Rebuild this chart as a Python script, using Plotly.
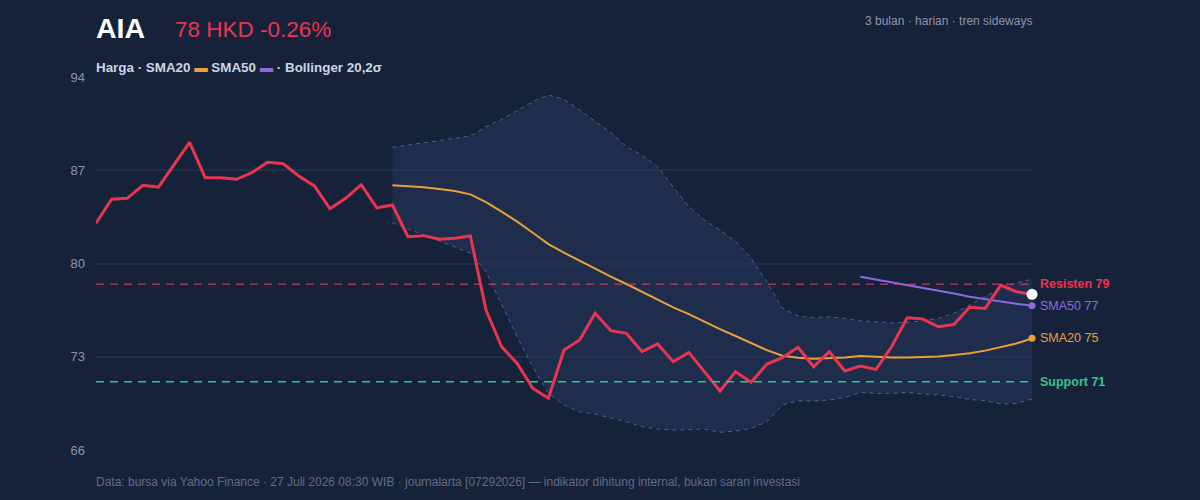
import plotly.graph_objects as go

# ---- data ----
days = list(range(61))
price = [83.02, 84.82, 84.89, 85.87, 85.74, 87.39, 89.1, 86.44, 86.44, 86.32,
         86.82, 87.6, 87.49, 86.57, 85.82, 84.11, 84.89, 85.92, 84.17, 84.39,
         82.01, 82.09, 81.82, 81.89, 82.06, 76.51, 73.75, 72.5, 70.63, 69.88,
         73.5, 74.26, 76.26, 74.96, 74.76, 73.38, 73.96, 72.63, 73.33, 71.88,
         70.43, 71.88, 71.08, 72.45, 72.93, 73.71, 72.25, 73.38, 71.93, 72.3,
         72.05, 73.75, 75.93, 75.83, 75.25, 75.43, 76.71, 76.63, 78.38, 77.88,
         77.69]
sma20_start = 19
sma20 = [85.87, 85.8, 85.72, 85.6, 85.44, 85.19, 84.6, 83.89, 83.14, 82.31,
         81.46, 80.81, 80.19, 79.59, 79.01, 78.46, 77.88, 77.33, 76.71, 76.2,
         75.63, 75.08, 74.56, 74.0, 73.5, 73.08, 72.93, 72.85, 72.88, 72.95,
         73.05, 72.98, 72.95, 72.95, 72.97, 73.02, 73.13, 73.26, 73.46, 73.71,
         74.0, 74.38]
bb_upper = [88.72, 88.88, 89.05, 89.2, 89.38, 89.57, 90.27, 90.82, 91.47, 92.15,
            92.65, 92.32, 91.52, 90.65, 89.82, 88.77, 88.14, 87.27, 85.76, 84.26,
            83.26, 82.51, 81.64, 80.39, 78.63, 76.63, 76.06, 75.93, 76.0, 75.88,
            75.7, 75.63, 75.55, 75.58, 75.7, 75.88, 76.26, 76.88, 77.51, 78.14,
            78.56, 78.81]
bb_lower = [83.06, 82.6, 82.1, 81.7, 81.25, 80.76, 79.38, 77.0, 74.5, 72.25,
            70.25, 69.38, 68.87, 68.7, 68.42, 68.12, 67.75, 67.57, 67.5, 67.55,
            67.57, 67.33, 67.42, 67.62, 68.12, 69.38, 69.7, 69.68, 69.75, 69.95,
            70.33, 70.25, 70.25, 70.33, 70.2, 70.13, 70.0, 69.8, 69.7, 69.45,
            69.5, 69.83]
sma50_start = 49
sma50 = [79.01, 78.8, 78.6, 78.4, 78.2, 78.0, 77.75, 77.5, 77.3, 77.15, 76.98, 76.82]
resistance = 78.45
support = 71.12
y_ticks = [66, 73, 80, 87, 94]

BG = "#16223a"
RED = "#ea3550"
ORANGE = "#e9a23b"
PURPLE = "#8a6be3"
GREEN = "#2cc98e"
GRID = "#202e4a"
TICK = "#8b96ad"
BANDLINE = "#4a6390"
FONT = "Liberation Sans, Arial, sans-serif"

x_sma20 = days[sma20_start:]
x_sma50 = days[sma50_start:]

fig = go.Figure()
fig.add_trace(go.Scatter(x=x_sma20, y=bb_upper, mode="lines",
                         line=dict(color=BANDLINE, width=1, dash="4px,4px"),
                         hoverinfo="skip", showlegend=False))
fig.add_trace(go.Scatter(x=x_sma20, y=bb_lower, mode="lines",
                         line=dict(color=BANDLINE, width=1, dash="4px,4px"),
                         fill="tonexty", fillcolor="rgba(36,54,90,0.55)",
                         hoverinfo="skip", showlegend=False))

fig.add_hline(y=resistance, line=dict(color="rgba(214,62,98,0.75)", width=1.5, dash="8px,6px"))
fig.add_hline(y=support, line=dict(color=GREEN, width=1.5, dash="8px,6px"))

fig.add_trace(go.Scatter(x=x_sma20, y=sma20, mode="lines",
                         line=dict(color=ORANGE, width=2), showlegend=False))
fig.add_trace(go.Scatter(x=x_sma50, y=sma50, mode="lines",
                         line=dict(color=PURPLE, width=2), showlegend=False))
fig.add_trace(go.Scatter(x=days, y=price, mode="lines",
                         line=dict(color=RED, width=3), showlegend=False))

# end markers
fig.add_trace(go.Scatter(x=[x_sma20[-1]], y=[sma20[-1]], mode="markers",
                         marker=dict(color=ORANGE, size=7), showlegend=False, cliponaxis=False))
fig.add_trace(go.Scatter(x=[x_sma50[-1]], y=[sma50[-1]], mode="markers",
                         marker=dict(color=PURPLE, size=7), showlegend=False, cliponaxis=False))
fig.add_trace(go.Scatter(x=[days[-1]], y=[price[-1]], mode="markers",
                         marker=dict(color="#ffffff", size=11), showlegend=False, cliponaxis=False))

# right-side labels
right_labels = [
    (resistance, "<b>Resisten 79</b>", RED),
    (sma50[-1], "SMA50 77", PURPLE),
    (sma20[-1], "SMA20 75", ORANGE),
    (support, "<b>Support 71</b>", GREEN),
]
for yv, txt, col in right_labels:
    fig.add_annotation(x=1, xref="paper", y=yv, yref="y", text=txt,
                       showarrow=False, xanchor="left", xshift=6,
                       font=dict(color=col, size=12.5, family=FONT))

W, H = 1200, 500
L, R, T, B = 96, 168, 77, 50
pw, ph = W - L - R, H - T - B

header = [
    dict(x=94, y=28, text="<b>AIA</b>", size=28.5, color="#ffffff", anchor="left"),
    dict(x=173, y=30, text="78 HKD -0.26%", size=22.5, color=RED, anchor="left"),
    dict(x=1034, y=21, text="3 bulan · harian · tren sideways", size=12, color=TICK, anchor="right"),
    dict(x=94, y=67, text="<b>Harga · SMA20 <span style='color:%s'>▬</span> SMA50 <span style='color:%s'>▬</span> · Bollinger 20,2σ</b>" % (ORANGE, PURPLE),
         size=13.4, color="#cdd5e4", anchor="left"),
    dict(x=94, y=482, text="Data: bursa via Yahoo Finance · 27 Juli 2026 08:30 WIB · journalarta [07292026] — indikator dihitung internal, bukan saran investasi",
         size=12, color="#5f6d88", anchor="left"),
]
for h in header:
    fig.add_annotation(x=(h["x"] - L) / pw, y=1 - (h["y"] - T) / ph,
                       xref="paper", yref="paper",
                       text=h["text"], showarrow=False, xanchor=h["anchor"], yanchor="middle",
                       font=dict(size=h["size"], color=h["color"], family=FONT))

fig.update_layout(
    width=W, height=H,
    margin=dict(l=L, r=R, t=T, b=B),
    paper_bgcolor=BG, plot_bgcolor=BG,
    font=dict(family=FONT, color=TICK),
    xaxis=dict(range=[0, 60], showgrid=False, zeroline=False, showticklabels=False,
               showline=False),
    yaxis=dict(range=[66, 94], tickvals=y_ticks, ticktext=[str(t) for t in y_ticks],
               showgrid=True, gridcolor=GRID, gridwidth=1.5, zeroline=False,
               tickfont=dict(size=13, color=TICK), ticks="", ticklabelstandoff=10),
    showlegend=False,
)

fig.write_html("out.html")
